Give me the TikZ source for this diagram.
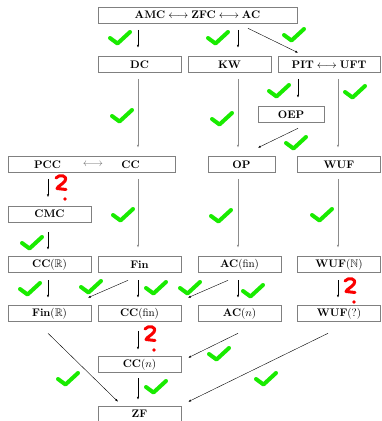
\documentclass[tikz,border=0pt]{standalone}
\usepackage{amsmath,amssymb}
\usetikzlibrary{arrows.meta,calc}
\definecolor{chkgreen}{RGB}{25,235,0}
\definecolor{qred}{RGB}{250,0,0}
\tikzset{
  box/.style={draw=black!50, line width=0.6pt, minimum height=16pt, minimum width=83pt,
    inner sep=0pt, font=\fontsize{10.95}{13}\selectfont\bfseries},
  lbl/.style={inner sep=0pt, font=\fontsize{10.95}{13}\selectfont\bfseries},
  arr/.style={-{Latex[length=2.8pt,width=2.2pt]}, line width=0.4pt},
  varr/.style={arr, shorten <=6.5pt, shorten >=8.5pt},
  longarr/.style={varr, draw=black!45, line width=0.7pt},
  chk/.pic={\draw[chkgreen, line width=4pt, line cap=round, line join=round]
      (-10,0) -- (-2.5,5.5) -- (10,-6);},
  qm/.pic={\draw[qred, line width=3pt, line cap=round, line join=round]
      (-5,-5) .. controls (-2,-9) and (7,-8) .. (4,-2)
      .. controls (2,1) and (-3,3) .. (-4,5.5) -- (5,6.5);
    \fill[qred] (4,16) circle (1.9);}
}
\begin{document}
\begin{tikzpicture}[x=1pt,y=-1pt]
\useasboundingbox (0,0) rectangle (381,421);
% column coordinates
\coordinate (c1) at (48,0);
\coordinate (c2) at (138,0);
\coordinate (c3) at (238,0);
\coordinate (c3b) at (298,0);
\coordinate (c4) at (338,0);
% nodes
\node[box, minimum width=199pt] (top) at (197.5,15) {$\mathbf{AMC}\longleftrightarrow\mathbf{ZFC}\longleftrightarrow\mathbf{AC}$};
\node[box] (DC) at (139.5,64.5) {DC};
\node[box] (KW) at (229.5,64.5) {KW};
\node[box, minimum width=102pt] (PIT) at (329,64.5) {$\mathbf{PIT}\longleftrightarrow\mathbf{UFT}$};
\node[box, minimum width=66pt] (OEP) at (291,114.5) {OEP};
\node[box, minimum width=167pt] (PCC) at (91.5,164.5) {};
\node[lbl] (PCCt) at (47.5,164.5) {PCC};
\node[lbl, text=black!55] (PCCa) at (93,164.5) {$\longleftrightarrow$};
\node[lbl] (CCt) at (130.5,164.5) {CC};
\node[box, minimum width=67pt] (OP) at (241.5,164.5) {OP};
\node[box] (WUF) at (339,164.5) {WUF};
\node[box] (CMC) at (49.5,214) {CMC};
\node[box] (CCR) at (49.5,264.5) {CC$(\mathbb{R})$};
\node[box] (Fin) at (139.5,264.5) {Fin};
\node[box] (ACfin) at (239.5,264.5) {AC$(\mathrm{fin})$};
\node[box] (WUFN) at (339,264.5) {WUF$(\mathbb{N})$};
\node[box] (FinR) at (49.5,313.5) {Fin$(\mathbb{R})$};
\node[box] (CCfin) at (139.5,313.5) {CC$(\mathrm{fin})$};
\node[box] (ACn) at (239.5,313.5) {AC$(n)$};
\node[box] (WUFq) at (339,313.5) {WUF$(?)$};
\node[box] (CCn) at (139.5,364.5) {CC$(n)$};
\node[box] (ZF) at (139.5,414) {ZF};
% vertical arrows
\draw[varr] (top.south -| c2) -- (DC.north -| c2);
\draw[varr] (top.south -| c3) -- (KW.north -| c3);
\draw[longarr] (DC.south -| c2) -- (PCC.north -| c2);
\draw[longarr] (KW.south -| c3) -- (OP.north -| c3);
\draw[varr] (PIT.south -| c3b) -- (OEP.north -| c3b);
\draw[longarr] (PIT.south -| c4) -- (WUF.north -| c4);
\draw[varr] (PCC.south -| c1) -- (CMC.north -| c1);
\draw[longarr] (PCC.south -| c2) -- (Fin.north -| c2);
\draw[longarr] (OP.south -| c3) -- (ACfin.north -| c3);
\draw[longarr] (WUF.south -| c4) -- (WUFN.north -| c4);
\draw[varr, shorten <=10pt, shorten >=6.5pt] (CMC.south -| c1) -- (CCR.north -| c1);
\draw[varr, shorten <=7.5pt, shorten >=7.5pt] (CCR.south -| c1) -- (FinR.north -| c1);
\draw[varr, shorten <=7.5pt, shorten >=7.5pt] (Fin.south -| c2) -- (CCfin.north -| c2);
\draw[varr, shorten <=7.5pt, shorten >=7.5pt] (ACfin.south -| c3) -- (ACn.north -| c3);
\draw[varr, shorten <=7.5pt, shorten >=7.5pt] (WUFN.south -| c4) -- (WUFq.north -| c4);
\draw[varr, shorten <=9pt, shorten >=6.5pt] (CCfin.south -| c2) -- (CCn.north -| c2);
\draw[varr, shorten <=5.5pt, shorten >=6pt] (CCn.south -| c2) -- (ZF.north -| c2);
% diagonal arrows
\draw[arr] ($(top.south)+(50.5,5)$) -- ($(PIT.north)+(-31,-3.5)$);
\draw[arr] ($(OEP.south)+(7,5.5)$) -- ($(OP.north)+(16.5,-8.5)$);
\draw[arr] ($(Fin.south)+(-11.5,7.5)$) -- ($(FinR.north)+(38.5,-7.5)$);
\draw[arr] ($(ACfin.south)+(-11.5,7.5)$) -- ($(CCfin.north)+(48.5,-7.5)$);
\draw[arr] ($(ACn.south)+(-1.5,11.5)$) -- ($(CCn.north east)+(7,1.5)$);
\draw[arr] ($(FinR.south)+(-1.5,11.5)$) -- ($(ZF.north)+(-21.5,-4)$);
\draw[arr] ($(WUFq.south)+(-11,11.5)$) -- ($(ZF.north east)+(7,-4)$);
% check marks
\foreach \p in {(120,38),(218,38),(294,35),(122,116),(222,119),(279,91),(355,92),
  (296,143),(123,215),(221,216),(322,215),(32,243),(30,289),(91,287),(156,288),
  (190,288),(253,291),(219,354),(68,379),(156,387),(266,379)}
  \pic at \p {chk};
% question marks
\pic at (61,183) {qm};
\pic at (350,286) {qm};
\pic at (150,334) {qm};
\end{tikzpicture}
\end{document}
